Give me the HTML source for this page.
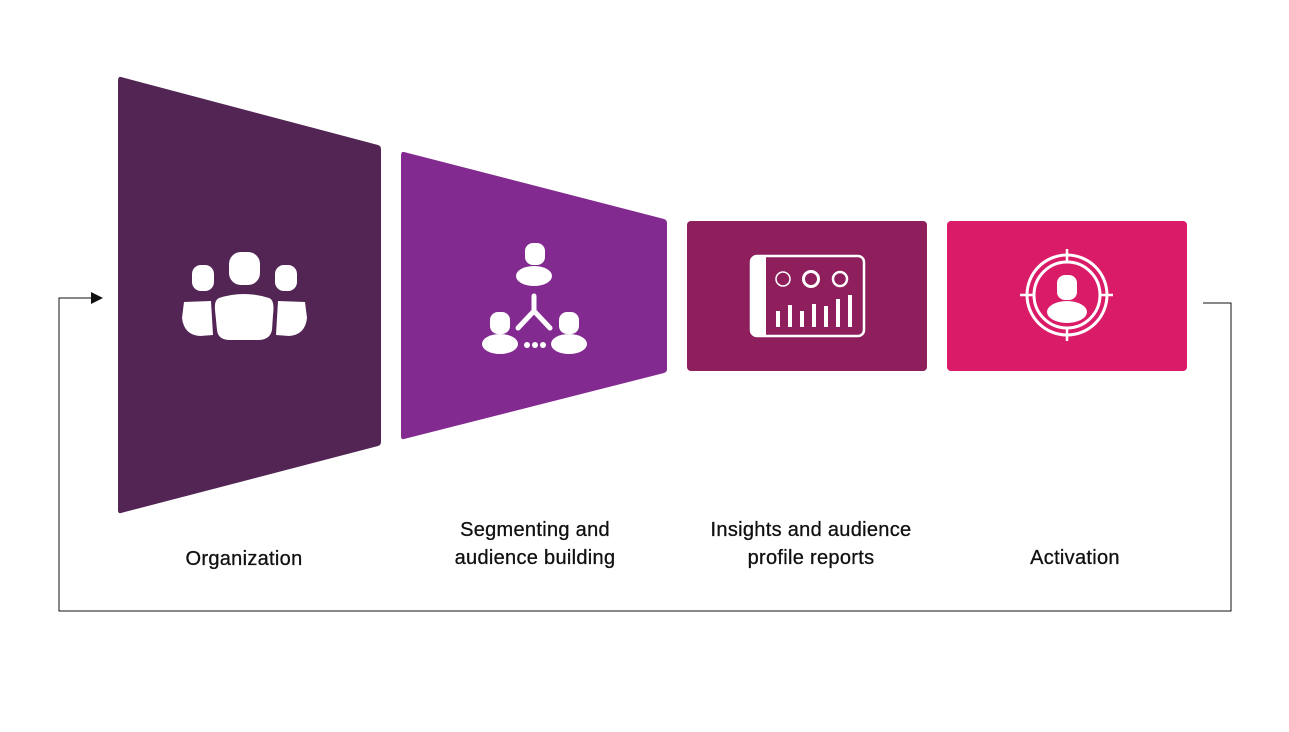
<!DOCTYPE html>
<html><head><style>
body{margin:0;background:#fff;width:1289px;height:727px;overflow:hidden;font-family:"Liberation Sans",sans-serif}
svg text{font-family:"Liberation Sans",sans-serif;font-size:20px;fill:#111;letter-spacing:0.3px;stroke:#111;stroke-width:0.3}
</style></head><body>
<svg width="1289" height="727" viewBox="0 0 1289 727">
<path d="M121,77 L378,145 Q381,146 381,149 L381,442 Q381,445 378,446 L121,513 Q118,514 118,510 L118,81 Q118,76 121,77Z" fill="#522555"/>
<path d="M404,152 L664,219 Q667,220 667,223 L667,369 Q667,372 664,373 L404,439 Q401,440 401,436 L401,156 Q401,151 404,152Z" fill="#822A90"/>
<rect x="687" y="221" width="240" height="150" rx="4" fill="#8E1F5C"/>
<rect x="947" y="221" width="240" height="150" rx="4" fill="#DA1B67"/>
<g fill="#fff">
<rect x="229" y="252" width="31" height="33" rx="12"/>
<rect x="192" y="265" width="22" height="26" rx="9"/>
<rect x="275" y="265" width="22" height="26" rx="9"/>
<path d="M219,298 Q244,290 269,298 Q275,300 273,315 L272,330 Q270,340 258,340 L230,340 Q218,340 217,330 L215,310 Q214,300 219,298Z"/>
<path d="M184,302 L211,301 L213,335 L200,336 Q184,335 182,318Z"/>
<path d="M305,302 L278,301 L276,335 L289,336 Q305,335 307,318Z"/>
<rect x="525" y="243" width="20" height="22" rx="8"/>
<ellipse cx="534" cy="276" rx="18" ry="10"/>
<rect x="490" y="312" width="20" height="22" rx="8"/>
<ellipse cx="500" cy="344" rx="18" ry="10"/>
<rect x="559" y="312" width="20" height="22" rx="8"/>
<ellipse cx="569" cy="344" rx="18" ry="10"/>
<circle cx="527" cy="345" r="3"/><circle cx="535" cy="345" r="3"/><circle cx="543" cy="345" r="3"/>
</g>
<path d="M534,296 L534,311 M534,311 L518,328 M534,311 L550,328" stroke="#fff" stroke-width="5" stroke-linecap="round" fill="none"/>
<rect x="751" y="256" width="113" height="80" rx="6" fill="none" stroke="#fff" stroke-width="2.5"/>
<path d="M757,256 L766,256 L766,336 L757,336 Q750,336 750,330 L750,262 Q750,256 757,256Z" fill="#fff"/>
<circle cx="783" cy="279" r="7" fill="none" stroke="#fff" stroke-width="1.5"/>
<circle cx="811" cy="279" r="7.5" fill="none" stroke="#fff" stroke-width="3"/>
<circle cx="840" cy="279" r="7" fill="none" stroke="#fff" stroke-width="2.5"/>
<g fill="#fff">
<rect x="776" y="311" width="4" height="16"/><rect x="788" y="305" width="4" height="22"/>
<rect x="800" y="311" width="4" height="16"/><rect x="812" y="304" width="4" height="23"/>
<rect x="824" y="306" width="4" height="21"/><rect x="836" y="299" width="4" height="28"/>
<rect x="848" y="295" width="4" height="32"/>
</g>
<circle cx="1067" cy="295" r="40" fill="none" stroke="#fff" stroke-width="3"/>
<circle cx="1067" cy="295" r="33" fill="none" stroke="#fff" stroke-width="3"/>
<path d="M1067,249 V262 M1067,328 V341 M1020,295 H1034 M1100,295 H1113" stroke="#fff" stroke-width="2.5"/>
<rect x="1057" y="275" width="20" height="25" rx="8" fill="#fff"/>
<ellipse cx="1067" cy="312" rx="20" ry="11" fill="#fff"/>
<path d="M1203,303 H1231 V611 H59 V298 H92" stroke="#111" stroke-width="1" fill="none"/>
<path d="M91,292 L103,298 L91,304Z" fill="#111"/>
<text x="244" y="565" text-anchor="middle">Organization</text>
<text x="535" y="536" text-anchor="middle">Segmenting and</text>
<text x="535" y="564" text-anchor="middle">audience building</text>
<text x="811" y="536" text-anchor="middle">Insights and audience</text>
<text x="811" y="564" text-anchor="middle">profile reports</text>
<text x="1075" y="564" text-anchor="middle">Activation</text>
</svg>
</body></html>
